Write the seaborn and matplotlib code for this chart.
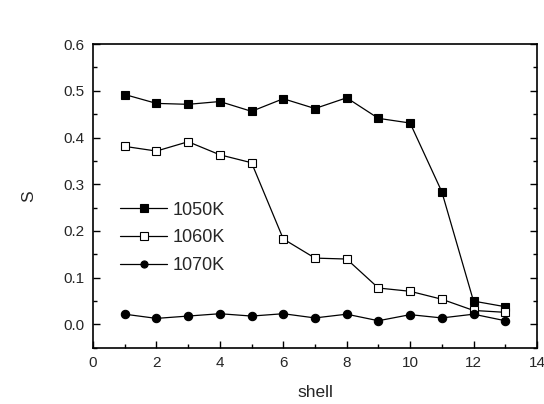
import matplotlib
matplotlib.use("Agg")
import matplotlib.pyplot as plt
import seaborn as sns
import pandas as pd
from matplotlib.ticker import MultipleLocator

shell = [1, 2, 3, 4, 5, 6, 7, 8, 9, 10, 11, 12, 13]
s_1050 = [0.492, 0.473, 0.471, 0.477, 0.456, 0.483, 0.462, 0.485, 0.441, 0.431, 0.284, 0.050, 0.038]
s_1060 = [0.381, 0.371, 0.391, 0.363, 0.346, 0.183, 0.142, 0.140, 0.078, 0.071, 0.054, 0.030, 0.026]
s_1070 = [0.022, 0.013, 0.018, 0.023, 0.018, 0.023, 0.014, 0.022, 0.008, 0.021, 0.014, 0.022, 0.008]
labels = ["1050K", "1060K", "1070K"]

sns.set_style("ticks")
plt.rcParams['font.family'] = ['Liberation Sans', 'DejaVu Sans']
plt.rcParams['xtick.direction'] = 'in'
plt.rcParams['ytick.direction'] = 'in'

fig = plt.figure(figsize=(5.44, 4.04), dpi=100)
ax = fig.add_axes([0.171, 0.139, 0.816, 0.752])

series = [s_1050, s_1060, s_1070]
markers = ["s", "s", "o"]
faces = ["black", "white", "black"]
for vals, lab, m, fc in zip(series, labels, markers, faces):
    df = pd.DataFrame({"shell": shell, "S": vals})
    sns.lineplot(data=df, x="shell", y="S", ax=ax, color="black", linewidth=0.9,
                 marker=m, markersize=6, markerfacecolor=fc, markeredgecolor="black",
                 markeredgewidth=0.8, label=lab)

ax.set_xlim(0, 14)
ax.set_ylim(-0.05, 0.6)
ax.xaxis.set_major_locator(MultipleLocator(2))
ax.xaxis.set_minor_locator(MultipleLocator(1))
ax.yaxis.set_major_locator(MultipleLocator(0.1))
ax.yaxis.set_minor_locator(MultipleLocator(0.05))
ax.yaxis.set_major_formatter(matplotlib.ticker.FormatStrFormatter('%.1f'))
ax.tick_params(which='both', right=True, top=False, labelsize=11, width=1, color='black')
ax.tick_params(which='major', length=5, pad=6)
ax.tick_params(which='minor', length=3)
for sp in ax.spines.values():
    sp.set_linewidth(1.2)
    sp.set_color('black')
ax.set_xlabel("shell", fontsize=12.5, labelpad=11)
ax.set_ylabel("S", fontsize=12.5, labelpad=20)

leg = ax.legend(loc='upper left', bbox_to_anchor=(0.025, 0.535), frameon=False, fontsize=13,
          handlelength=2.6, handletextpad=0.3, labelspacing=0.6, markerscale=0.85)

fig.savefig("out.png", dpi=100)
